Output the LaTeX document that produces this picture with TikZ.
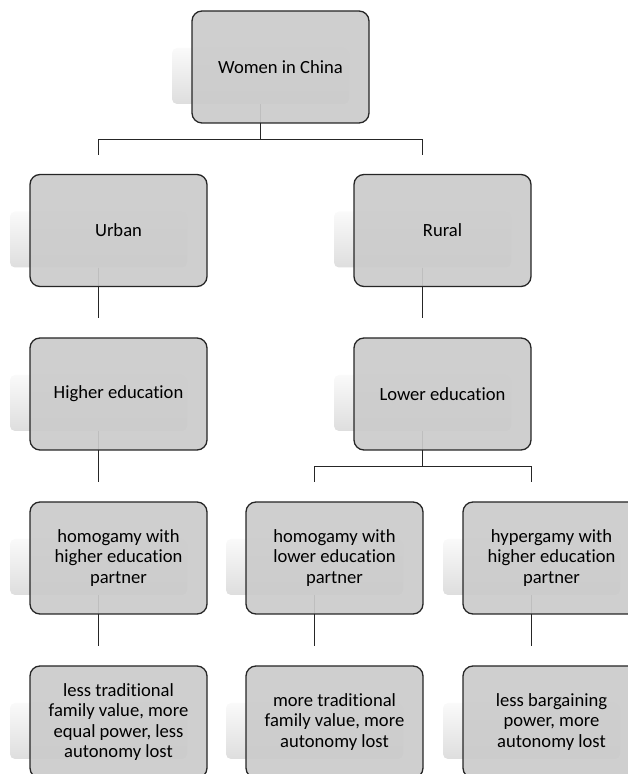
\documentclass[tikz,border=0pt]{standalone}
\usepackage{fontspec}
\setmainfont[Ligatures={NoCommon}]{Carlito}
\usetikzlibrary{calc}
\pgfdeclarelayer{background}
\pgfsetlayers{background,main}
\definecolor{boxgray}{RGB}{203,203,203}
\definecolor{linegray}{RGB}{38,38,38}
\tikzset{
	box/.style={draw=linegray, line width=1.3pt, rounded corners=10pt, fill=boxgray, fill opacity=0.92, text opacity=1,
		minimum width=177pt, minimum height=112pt, inner sep=0pt, align=center, font=\fontsize{18.6}{20.3}\selectfont},
	shade box/.style={rounded corners=5pt, top color=white!98!black, bottom color=white!87!black,
		minimum width=177pt, minimum height=56pt, inner sep=0pt},
	link/.style={draw=linegray, line width=1.2pt},
}
\begin{document}
\begin{tikzpicture}[x=1pt, y=1pt]
	\useasboundingbox (0,0) rectangle (628,774);
	\begin{scope}
	\clip (0,0) rectangle (628,774);
	% boxes
	\foreach \name/\x/\y/\txt in {women/280.5/707/{Women in China}, urban/118.5/543.5/Urban, rural/442.5/543.5/Rural,
		higher/118.5/380/{Higher education}, lower/442.5/380/{Lower education},
		homhigh/118.5/216/{homogamy with\\higher education\\partner}, homlow/334.5/216/{homogamy with\\lower education\\partner},
		hyper/551.5/216/{hypergamy with\\higher education\\partner},
		reshigh/118.5/52/{less traditional\\family value, more\\equal power, less\\autonomy lost},
		reslow/334.5/52/{more traditional\\family value, more\\autonomy lost},
		reshyper/551.5/52/{less bargaining\\power, more\\autonomy lost}}{
		\node[box] (\name) at (\x, \y) {\txt};}
	\begin{pgfonlayer}{background}
		\foreach \name in {women, urban, rural, higher, lower, homhigh, homlow, hyper, reshigh, reslow, reshyper}{
			\node[shade box] (s\name) at ($(\name)+(-20,-9)$) {};}
		% connectors
		\draw[link] (swomen.south) -- ($(women.south)+(-20,-16)$) coordinate (womenbar);
		\draw[link] (womenbar) -| ($(urban.north)+(-20,19)$);
		\draw[link] (womenbar) -| ($(rural.north)+(-20,19)$);
		\draw[link] (surban.south) -- ($(higher.north)+(-20,19)$);
		\draw[link] (srural.south) -- ($(lower.north)+(-20,19)$);
		\draw[link] (shigher.south) -- ($(homhigh.north)+(-20,19)$);
		\draw[link] (slower.south) -- ($(lower.south)+(-20,-16)$) coordinate (lowerbar);
		\draw[link] (lowerbar) -| ($(homlow.north)+(-20,19)$);
		\draw[link] (lowerbar) -| ($(hyper.north)+(-20,19)$);
		\foreach \a/\b in {homhigh/reshigh, homlow/reslow, hyper/reshyper}{
			\draw[link] (s\a.south) -- ($(\b.north)+(-20,19)$);}
	\end{pgfonlayer}
	\end{scope}
\end{tikzpicture}
\end{document}
